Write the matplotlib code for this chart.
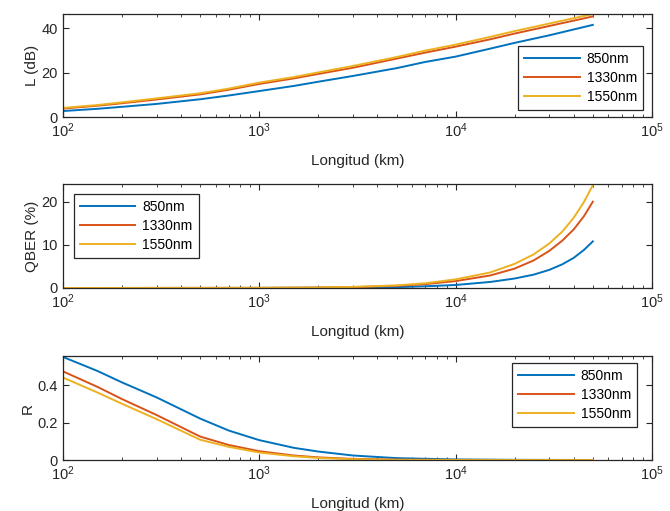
import numpy as np
import matplotlib
matplotlib.use('Agg')
from matplotlib import pyplot as plt
from matplotlib.ticker import LogLocator

plt.rcParams['font.family'] = ['Liberation Sans', 'DejaVu Sans']

labels = ['850nm', '1330nm', '1550nm']
colors = ['#0072BD', '#D95319', '#EDB120']

# longitud (km)
km_L = [100, 150, 200, 300, 500, 700, 1000, 1500, 2000, 3000, 5000, 7000, 10000, 15000, 20000, 30000, 50000]
L_850 = [2.7, 3.7, 4.6, 5.9, 8.0, 9.7, 11.7, 14.0, 15.9, 18.5, 22.0, 24.8, 27.2, 30.8, 33.4, 36.8, 41.5]
L_1330 = [3.8, 5.1, 6.2, 7.9, 10.2, 12.3, 14.9, 17.4, 19.4, 22.2, 26.3, 29.0, 31.7, 35.0, 37.6, 41.0, 45.3]
L_1550 = [4.1, 5.4, 6.6, 8.4, 10.7, 12.8, 15.5, 18.0, 20.1, 23.0, 27.0, 29.9, 32.6, 36.1, 38.7, 42.1, 46.4]

km_Q = [100, 1000, 2000, 3000, 5000, 7000, 10000, 15000, 20000, 25000, 30000, 35000, 40000, 45000, 50000]
Q_850 = [0, 0.02, 0.05, 0.1, 0.2, 0.4, 0.7, 1.4, 2.2, 3.1, 4.2, 5.5, 7.0, 8.8, 10.8]
Q_1330 = [0, 0.03, 0.1, 0.2, 0.5, 0.9, 1.6, 2.9, 4.5, 6.4, 8.6, 11.0, 13.6, 16.6, 20.0]
Q_1550 = [0, 0.04, 0.12, 0.25, 0.6, 1.1, 2.0, 3.6, 5.6, 7.8, 10.3, 13.1, 16.3, 19.9, 23.8]

km_R = [100, 150, 200, 300, 500, 700, 1000, 1500, 2000, 3000, 5000, 10000, 20000, 50000]
R_850 = [0.55, 0.475, 0.414, 0.334, 0.221, 0.157, 0.106, 0.065, 0.045, 0.024, 0.010, 0.003, 0.001, 0]
R_1330 = [0.473, 0.39, 0.325, 0.24, 0.125, 0.08, 0.047, 0.024, 0.014, 0.006, 0.002, 0.0005, 0.0001, 0]
R_1550 = [0.44, 0.36, 0.30, 0.218, 0.108, 0.07, 0.04, 0.02, 0.011, 0.004, 0.001, 0.0003, 0.0001, 0]

panels = [
    (km_L, [L_850, L_1330, L_1550], 'L (dB)', (0, 46.4), [0, 20, 40], 'lower right', (0.985, 0.068)),
    (km_Q, [Q_850, Q_1330, Q_1550], 'QBER (%)', (0, 24.1), [0, 10, 20], 'upper left', (0.018, 0.904)),
    (km_R, [R_850, R_1330, R_1550], 'R', (0, 0.555), [0, 0.2, 0.4], 'upper right', (0.975, 0.933)),
]
boxes = [[0.094, 0.771, 0.879, 0.2016], [0.094, 0.4364, 0.879, 0.2035], [0.094, 0.0998, 0.879, 0.2035]]

fig = plt.figure(figsize=(6.7, 5.11), dpi=100)
txt = '#262626'
for box, (x, ys, ylab, ylim, yt, loc, anchor) in zip(boxes, panels):
    ax = fig.add_axes(box)
    for y, c, lab in zip(ys, colors, labels):
        ax.plot(x, y, color=c, lw=1.4, label=lab)
    ax.set_xscale('log')
    ax.set_xlim(1e2, 1e5)
    ax.set_ylim(*ylim)
    ax.set_yticks(yt)
    ax.set_yticklabels([('%g' % v) for v in yt])
    ax.xaxis.set_minor_locator(LogLocator(base=10, subs=np.arange(2, 10)))
    ax.tick_params(which='both', direction='in', top=True, right=True, colors=txt, labelsize=10.5)
    ax.tick_params(which='major', length=4)
    ax.tick_params(which='minor', length=2)
    ax.tick_params(axis='x', pad=3)
    for s in ax.spines.values():
        s.set_color(txt)
        s.set_linewidth(0.9)
    ax.set_xlabel('Longitud (km)', fontsize=11, color=txt, labelpad=10)
    ax.set_ylabel(ylab, fontsize=11, color=txt, labelpad=2)
    leg = ax.legend(loc=loc, bbox_to_anchor=anchor, borderaxespad=0, fontsize=10,
                    fancybox=False, framealpha=1, edgecolor='#262626', handlelength=4.0,
                    borderpad=0.45, labelspacing=0.35, handletextpad=0.5)
    leg.get_frame().set_linewidth(0.9)

plt.savefig('out.png', dpi=100)
plt.close()
